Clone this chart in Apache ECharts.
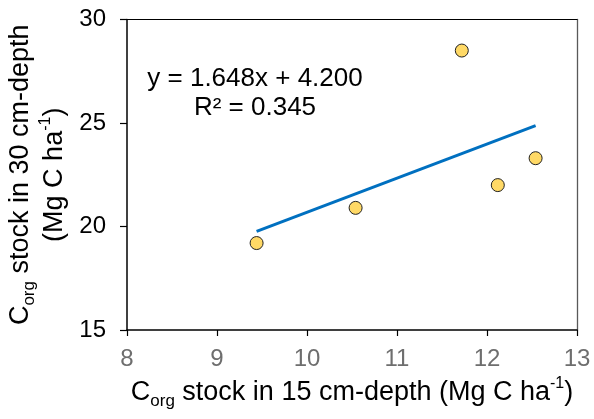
<!DOCTYPE html>
<html><head><meta charset="utf-8">
<script src="https://cdn.jsdelivr.net/npm/echarts@6/dist/echarts.min.js"></script>
<style>html,body{margin:0;padding:0;background:#fff}#c{width:594px;height:419px}</style>
</head><body><div id="c"></div>
<script>
// Data
var stock15 = [9.44, 10.54, 11.72, 12.12, 12.54];
var stock30 = [19.2, 20.9, 28.5, 22.0, 23.3];
var trendX = [9.44, 12.54];
var trendY = [19.76, 24.87];
var xTicks = [8, 9, 10, 11, 12, 13];
var yTicks = [15, 20, 25, 30];
var eqText = 'y = 1.648x + 4.200';
var r2Text = 'R² = 0.345';

var FONT = '"Liberation Sans", Arial, Helvetica, sans-serif';
var pts = stock15.map(function (x, i) { return [x, stock30[i]]; });
var line = trendX.map(function (x, i) { return [x, trendY[i]]; });
var rich = {
  a: { fontSize: 27, fontFamily: FONT, color: '#000', lineHeight: 34 },
  s: { fontSize: 17, fontFamily: FONT, color: '#000', lineHeight: 18, verticalAlign: 'bottom' },
  p: { fontSize: 16, fontFamily: FONT, color: '#000', lineHeight: 26, verticalAlign: 'top' }
};

var chart = echarts.init(document.getElementById('c'), null, { renderer: 'canvas' });
chart.setOption({
  animation: false,
  backgroundColor: '#fff',
  grid: { left: 127, right: 17, top: 19.5, bottom: 89, containLabel: false, outerBoundsMode: 'none' },
  xAxis: [{
    type: 'value', min: xTicks[0], max: xTicks[xTicks.length - 1], interval: 1,
    axisLine: { show: true, onZero: false, lineStyle: { color: '#000', width: 1.5 } },
    axisTick: { show: true, inside: false, length: 6, lineStyle: { color: '#000', width: 1.2 } },
    axisLabel: { fontSize: 24, fontFamily: FONT, color: '#6e6e6e', margin: 17 },
    splitLine: { show: false },
    name: '{a|C}{s|org}{a| stock in 15 cm-depth (Mg C ha}{p|-1}{a|)}',
    nameLocation: 'middle', nameGap: 45,
    nameTextStyle: { rich: rich }
  }, {
    type: 'value', position: 'top', min: xTicks[0], max: xTicks[xTicks.length - 1],
    axisLine: { show: true, onZero: false, lineStyle: { color: '#000', width: 1 } },
    axisTick: { show: false }, axisLabel: { show: false }, splitLine: { show: false }
  }],
  yAxis: [{
    type: 'value', min: yTicks[0], max: yTicks[yTicks.length - 1], interval: 5,
    axisLine: { show: true, onZero: false, lineStyle: { color: '#000', width: 1.5 } },
    axisTick: { show: true, inside: false, length: 7, lineStyle: { color: '#000', width: 1.2 } },
    axisLabel: { fontSize: 24, fontFamily: FONT, color: '#000', margin: 21 },
    splitLine: { show: false },
    name: '{a|C}{s|org}{a| stock in 30 cm-depth}\n{a|(Mg C ha}{p|-1}{a|)}',
    nameLocation: 'middle', nameGap: 40, nameRotate: 90,
    nameTextStyle: { rich: rich, align: 'center' }
  }, {
    type: 'value', position: 'right', min: yTicks[0], max: yTicks[yTicks.length - 1],
    axisLine: { show: true, onZero: false, lineStyle: { color: '#595959', width: 1.3 } },
    axisTick: { show: false }, axisLabel: { show: false }, splitLine: { show: false }
  }],
  series: [{
    type: 'line', data: line, symbol: 'none', silent: true,
    lineStyle: { color: '#0070C0', width: 3 }, z: 2
  }, {
    type: 'scatter', data: pts, symbol: 'circle', symbolSize: 13,
    itemStyle: { color: '#FFD966', borderColor: '#222', borderWidth: 1, opacity: 1 }, z: 3
  }],
  graphic: [{
    type: 'text', x: 255, y: 79,
    style: { text: eqText, fontSize: 26, fontFamily: FONT, fill: '#000', textAlign: 'center', textVerticalAlign: 'middle' }
  }, {
    type: 'text', x: 255, y: 108,
    style: { text: r2Text, fontSize: 26, fontFamily: FONT, fill: '#000', textAlign: 'center', textVerticalAlign: 'middle' }
  }]
});
</script></body></html>
